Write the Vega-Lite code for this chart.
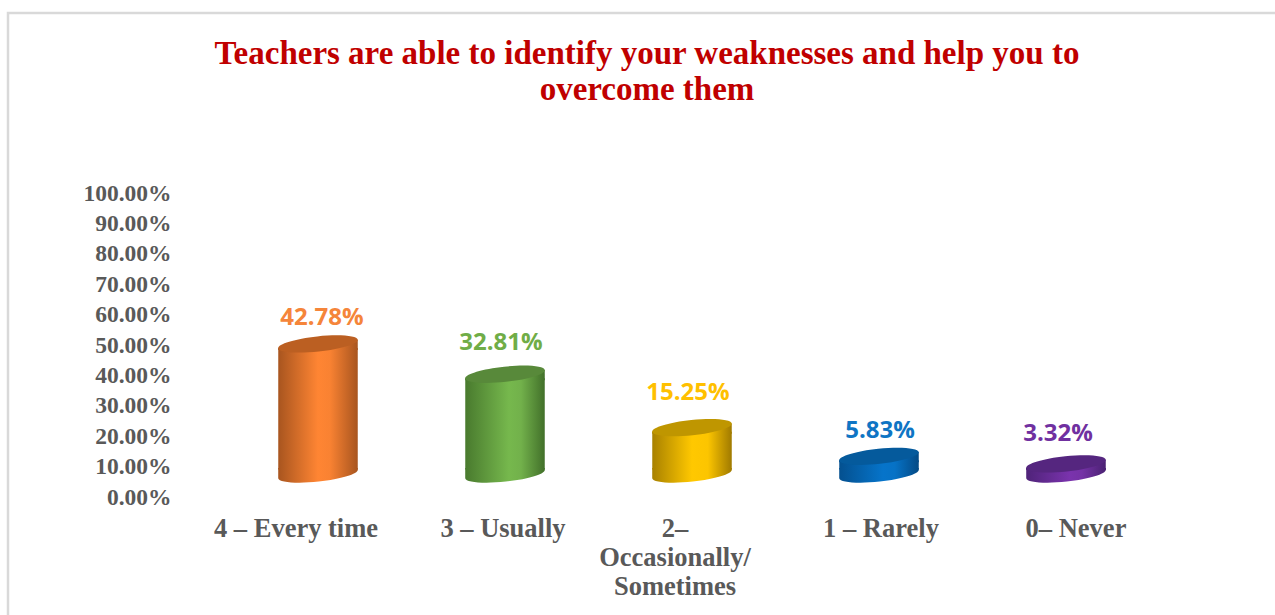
{
"$schema":"https://vega.github.io/schema/vega-lite/v6.json",
"width":1280,"height":640,
"autosize":{"type":"none"},
"padding":{"left":8,"top":13,"right":0,"bottom":0},
"background":"white",
"view":{"stroke":"#d9d9d9","strokeWidth":2.5,"fill":"white"},
"title":{"text":["Teachers are able to identify your weaknesses and help you to","overcome them"],"anchor":"start","align":"center","dx":639,"offset":-94,"font":"Liberation Serif","fontWeight":"bold","fontSize":33,"lineHeight":36,"color":"#c00000","baseline":"top"},
"data":{"values":[
{"category":"4 – Every time","value":42.78,"label":"42.78%"},
{"category":"3 – Usually","value":32.81,"label":"32.81%"},
{"category":"2– Occasionally/ Sometimes","value":15.25,"label":"15.25%"},
{"category":"1 – Rarely","value":5.83,"label":"5.83%"},
{"category":"0– Never","value":3.32,"label":"3.32%"}]},
"encoding":{
"x":{"field":"category","type":"nominal","sort":null,"title":null,
"scale":{"type":"band","domain":["4 – Every time","3 – Usually","2– Occasionally/ Sometimes","1 – Rarely","0– Never"],"range":[216.5,1151.5],"paddingInner":0,"paddingOuter":0},
"axis":{"orient":"bottom","offset":-138,"domain":false,"ticks":false,"grid":false,"labelAngle":0,"labelPadding":0,"labelLimit":0,
"labelFont":"Liberation Serif","labelFontWeight":"bold","labelFontSize":26.5,"labelColor":"#595959","labelLineHeight":29,"labelBaseline":"top",
"labelExpr":"datum.value=='2– Occasionally/ Sometimes'?['2–','Occasionally/','Sometimes']:datum.label",
"labelOffset":{"expr":"datum.value=='4 – Every time'?-22:datum.value=='3 – Usually'?-2:datum.value=='2– Occasionally/ Sometimes'?-17:datum.value=='1 – Rarely'?2:10"}}},
"y":{"field":"value","type":"quantitative","title":null,
"scale":{"domain":[0,100],"range":[484,180],"nice":false,"zero":true},
"axis":{"orient":"left","offset":-163,"domain":false,"ticks":false,"grid":false,"values":[0,10,20,30,40,50,60,70,80,90,100],"labelExpr":"format(datum.value,'.2f')+'%'","labelPadding":0,
"labelFont":"Liberation Serif","labelFontWeight":"bold","labelFontSize":23.5,"labelColor":"#595959"}}
},
"layer":[
{"transform":[{"filter":"datum.value==42.78"}],"layer":[
{"mark":{"type":"bar","yOffset":-19,"y2Offset":-27.5,"width":79.5,"color":{"gradient":"linear","x1":0,"y1":0,"x2":1,"y2":0,"stops":[{"offset":0,"color":"#a8551f"},{"offset":0.5,"color":"#ff8533"},{"offset":0.65,"color":"#f98232"},{"offset":1,"color":"#a8551f"}]}},"encoding":{"y2":{"datum":0}}},
{"mark":{"type":"point","filled":true,"opacity":1,"size":6400,"yOffset":-23,"shape":"M0.9945 -0.1045 C1.0055 -0.0001 0.5691 0.1313 0.0199 0.189 C-0.5293 0.2467 -0.9835 0.2089 -0.9945 0.1045 L-0.9945 -0.15 L0.9945 -0.15 Z","fill":{"gradient":"linear","x1":0,"y1":0,"x2":1,"y2":0,"stops":[{"offset":0,"color":"#a8551f"},{"offset":0.5,"color":"#ff8533"},{"offset":0.65,"color":"#f98232"},{"offset":1,"color":"#a8551f"}]}},"encoding":{"y":{"datum":0}}},
{"mark":{"type":"point","filled":true,"opacity":1,"size":6400,"yOffset":-23,"shape":"M-0.9945 0.1045 L0.9945 -0.1045 L0.9945 0.15 L-0.9945 0.15 Z","fill":{"gradient":"linear","x1":0,"y1":0,"x2":1,"y2":0,"stops":[{"offset":0,"color":"#a8551f"},{"offset":0.5,"color":"#ff8533"},{"offset":0.65,"color":"#f98232"},{"offset":1,"color":"#a8551f"}]}}},
{"mark":{"type":"text","font":"Open Sans","fontWeight":"bold","fontSize":24,"color":"#f5853a","yOffset":-23,"dx":4,"dy":-26},"encoding":{"text":{"field":"label"}}}
]},
{"transform":[{"filter":"datum.value==32.81"}],"layer":[
{"mark":{"type":"bar","yOffset":-19,"y2Offset":-27.5,"width":79.5,"color":{"gradient":"linear","x1":0,"y1":0,"x2":1,"y2":0,"stops":[{"offset":0,"color":"#497a2e"},{"offset":0.55,"color":"#76b84d"},{"offset":0.7,"color":"#72b14b"},{"offset":1,"color":"#42702a"}]}},"encoding":{"y2":{"datum":0}}},
{"mark":{"type":"point","filled":true,"opacity":1,"size":6400,"yOffset":-23,"shape":"M0.9945 -0.1045 C1.0055 -0.0001 0.5691 0.1313 0.0199 0.189 C-0.5293 0.2467 -0.9835 0.2089 -0.9945 0.1045 L-0.9945 -0.15 L0.9945 -0.15 Z","fill":{"gradient":"linear","x1":0,"y1":0,"x2":1,"y2":0,"stops":[{"offset":0,"color":"#497a2e"},{"offset":0.55,"color":"#76b84d"},{"offset":0.7,"color":"#72b14b"},{"offset":1,"color":"#42702a"}]}},"encoding":{"y":{"datum":0}}},
{"mark":{"type":"point","filled":true,"opacity":1,"size":6400,"yOffset":-23,"shape":"M-0.9945 0.1045 L0.9945 -0.1045 L0.9945 0.15 L-0.9945 0.15 Z","fill":{"gradient":"linear","x1":0,"y1":0,"x2":1,"y2":0,"stops":[{"offset":0,"color":"#497a2e"},{"offset":0.55,"color":"#76b84d"},{"offset":0.7,"color":"#72b14b"},{"offset":1,"color":"#42702a"}]}}},
{"mark":{"type":"text","font":"Open Sans","fontWeight":"bold","fontSize":24,"color":"#70ad47","yOffset":-23,"dx":-4,"dy":-31},"encoding":{"text":{"field":"label"}}}
]},
{"transform":[{"filter":"datum.value==15.25"}],"layer":[
{"mark":{"type":"bar","yOffset":-19,"y2Offset":-27.5,"width":79.5,"color":{"gradient":"linear","x1":0,"y1":0,"x2":1,"y2":0,"stops":[{"offset":0,"color":"#a88100"},{"offset":0.5,"color":"#ffc800"},{"offset":0.7,"color":"#fcc500"},{"offset":1,"color":"#a07a00"}]}},"encoding":{"y2":{"datum":0}}},
{"mark":{"type":"point","filled":true,"opacity":1,"size":6400,"yOffset":-23,"shape":"M0.9945 -0.1045 C1.0055 -0.0001 0.5691 0.1313 0.0199 0.189 C-0.5293 0.2467 -0.9835 0.2089 -0.9945 0.1045 L-0.9945 -0.15 L0.9945 -0.15 Z","fill":{"gradient":"linear","x1":0,"y1":0,"x2":1,"y2":0,"stops":[{"offset":0,"color":"#a88100"},{"offset":0.5,"color":"#ffc800"},{"offset":0.7,"color":"#fcc500"},{"offset":1,"color":"#a07a00"}]}},"encoding":{"y":{"datum":0}}},
{"mark":{"type":"point","filled":true,"opacity":1,"size":6400,"yOffset":-23,"shape":"M-0.9945 0.1045 L0.9945 -0.1045 L0.9945 0.15 L-0.9945 0.15 Z","fill":{"gradient":"linear","x1":0,"y1":0,"x2":1,"y2":0,"stops":[{"offset":0,"color":"#a88100"},{"offset":0.5,"color":"#ffc800"},{"offset":0.7,"color":"#fcc500"},{"offset":1,"color":"#a07a00"}]}}},
{"mark":{"type":"text","font":"Open Sans","fontWeight":"bold","fontSize":24,"color":"#ffc000","yOffset":-23,"dx":-4,"dy":-35},"encoding":{"text":{"field":"label"}}}
]},
{"transform":[{"filter":"datum.value==5.83"}],"layer":[
{"mark":{"type":"bar","yOffset":-19,"y2Offset":-27.5,"width":79.5,"color":{"gradient":"linear","x1":0,"y1":0,"x2":1,"y2":0,"stops":[{"offset":0,"color":"#04508f"},{"offset":0.55,"color":"#0674ca"},{"offset":0.7,"color":"#0672c6"},{"offset":1,"color":"#044a85"}]}},"encoding":{"y2":{"datum":0}}},
{"mark":{"type":"point","filled":true,"opacity":1,"size":6400,"yOffset":-23,"shape":"M0.9945 -0.1045 C1.0055 -0.0001 0.5691 0.1313 0.0199 0.189 C-0.5293 0.2467 -0.9835 0.2089 -0.9945 0.1045 L-0.9945 -0.15 L0.9945 -0.15 Z","fill":{"gradient":"linear","x1":0,"y1":0,"x2":1,"y2":0,"stops":[{"offset":0,"color":"#04508f"},{"offset":0.55,"color":"#0674ca"},{"offset":0.7,"color":"#0672c6"},{"offset":1,"color":"#044a85"}]}},"encoding":{"y":{"datum":0}}},
{"mark":{"type":"point","filled":true,"opacity":1,"size":6400,"yOffset":-23,"shape":"M-0.9945 0.1045 L0.9945 -0.1045 L0.9945 0.15 L-0.9945 0.15 Z","fill":{"gradient":"linear","x1":0,"y1":0,"x2":1,"y2":0,"stops":[{"offset":0,"color":"#04508f"},{"offset":0.55,"color":"#0674ca"},{"offset":0.7,"color":"#0672c6"},{"offset":1,"color":"#044a85"}]}}},
{"mark":{"type":"text","font":"Open Sans","fontWeight":"bold","fontSize":24,"color":"#0f75c4","yOffset":-23,"dx":1,"dy":-25},"encoding":{"text":{"field":"label"}}}
]},
{"transform":[{"filter":"datum.value==3.32"}],"layer":[
{"mark":{"type":"bar","yOffset":-19,"y2Offset":-27.5,"width":79.5,"color":{"gradient":"linear","x1":0,"y1":0,"x2":1,"y2":0,"stops":[{"offset":0,"color":"#4f2379"},{"offset":0.55,"color":"#7a33ad"},{"offset":0.7,"color":"#7532a6"},{"offset":1,"color":"#4a2172"}]}},"encoding":{"y2":{"datum":0}}},
{"mark":{"type":"point","filled":true,"opacity":1,"size":6400,"yOffset":-23,"shape":"M0.9945 -0.1045 C1.0055 -0.0001 0.5691 0.1313 0.0199 0.189 C-0.5293 0.2467 -0.9835 0.2089 -0.9945 0.1045 L-0.9945 -0.15 L0.9945 -0.15 Z","fill":{"gradient":"linear","x1":0,"y1":0,"x2":1,"y2":0,"stops":[{"offset":0,"color":"#4f2379"},{"offset":0.55,"color":"#7a33ad"},{"offset":0.7,"color":"#7532a6"},{"offset":1,"color":"#4a2172"}]}},"encoding":{"y":{"datum":0}}},
{"mark":{"type":"point","filled":true,"opacity":1,"size":6400,"yOffset":-23,"shape":"M-0.9945 0.1045 L0.9945 -0.1045 L0.9945 0.15 L-0.9945 0.15 Z","fill":{"gradient":"linear","x1":0,"y1":0,"x2":1,"y2":0,"stops":[{"offset":0,"color":"#4f2379"},{"offset":0.55,"color":"#7a33ad"},{"offset":0.7,"color":"#7532a6"},{"offset":1,"color":"#4a2172"}]}}},
{"mark":{"type":"text","font":"Open Sans","fontWeight":"bold","fontSize":24,"color":"#7030a0","yOffset":-23,"dx":-8,"dy":-30},"encoding":{"text":{"field":"label"}}}
]},
{"mark":{"type":"point","filled":true,"opacity":1,"size":6400,"yOffset":-23,"shape":"M0.9945 -0.1045 C1.0055 -0.0001 0.5691 0.1313 0.0199 0.189 C-0.5293 0.2467 -0.9835 0.2089 -0.9945 0.1045 C-1.0055 0.0001 -0.5691 -0.1313 -0.0199 -0.189 C0.5293 -0.2467 0.9835 -0.2089 0.9945 -0.1045 Z"},
"encoding":{
"color":{"field":"category","type":"nominal","legend":null,"sort":null,
"scale":{"domain":["4 – Every time","3 – Usually","2– Occasionally/ Sometimes","1 – Rarely","0– Never"],"range":["#bb5f22","#58893a","#bf9600","#055a9c","#55267f"]}}}}
]
}
